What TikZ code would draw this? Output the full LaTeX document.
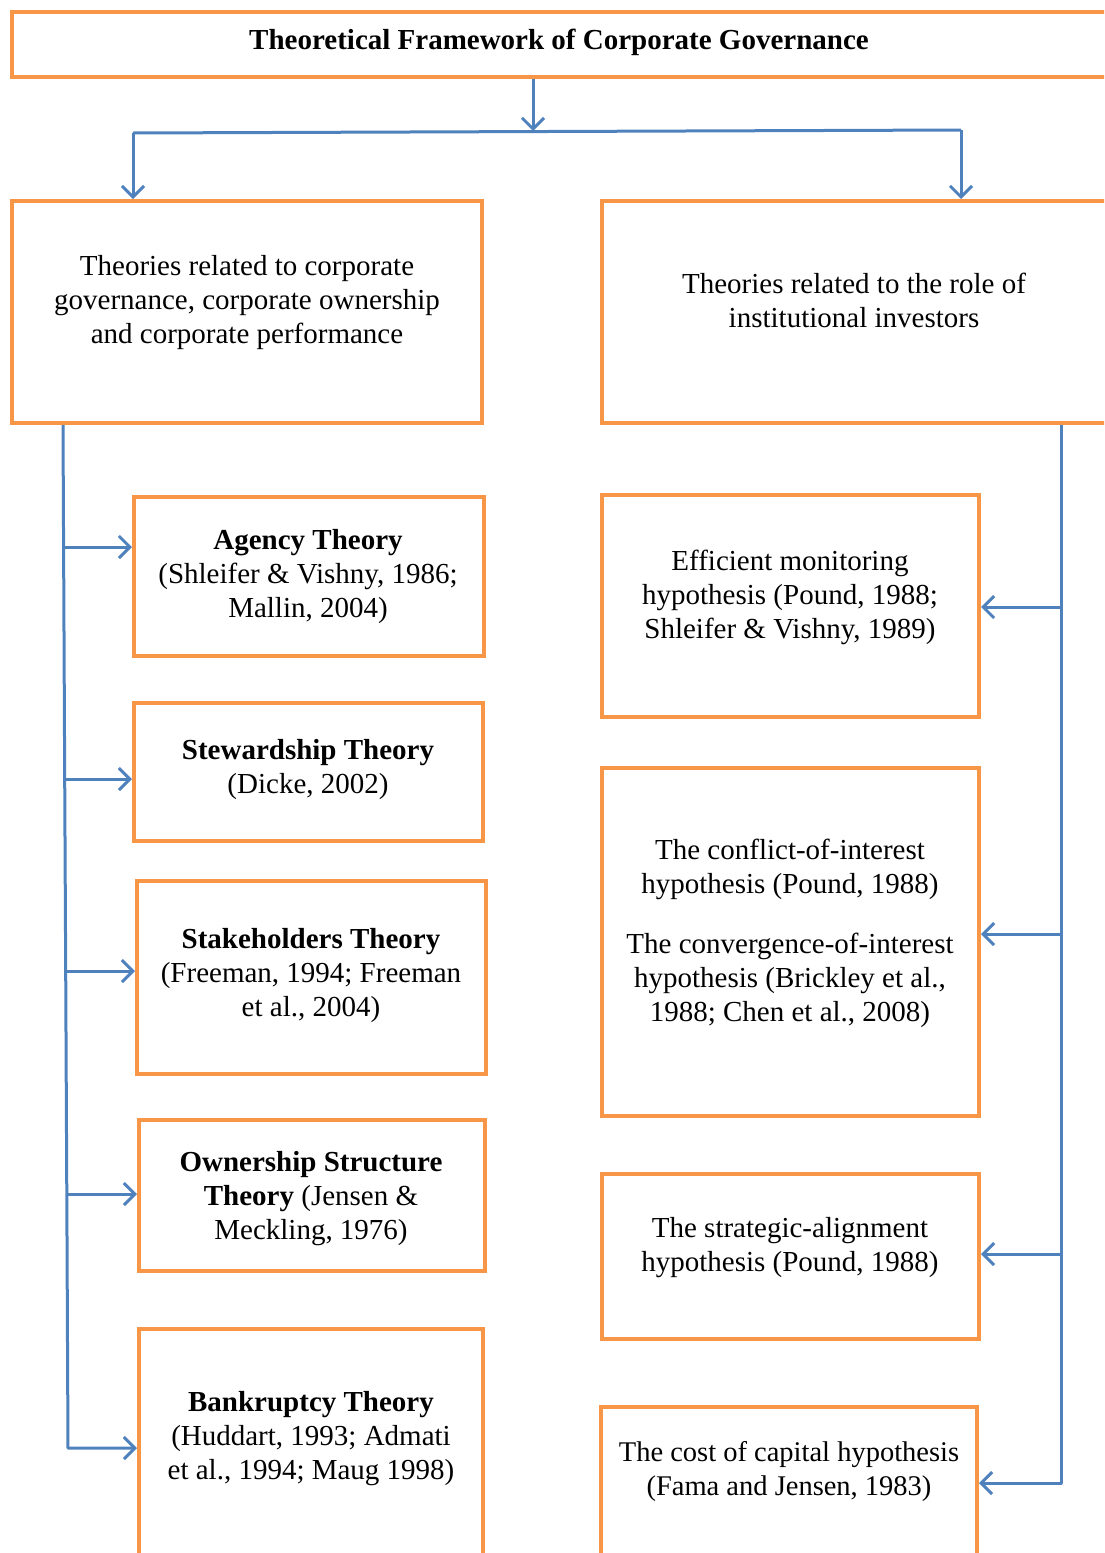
\documentclass[tikz,border=0pt]{standalone}
\usepackage{fontspec}
\setmainfont{Liberation Serif}
\usetikzlibrary{arrows.meta}
\definecolor{boxorange}{HTML}{F79646}
\definecolor{linkblue}{HTML}{4F81BD}
\begin{document}
\begin{tikzpicture}[x=1pt,y=-1pt,
  obox/.style={draw=boxorange, line width=4pt, rectangle, inner sep=0pt},
  txt/.style={align=center, inner sep=0pt, font=\fontsize{29}{34}\selectfont},
  link/.style={draw=linkblue, line width=3pt},
  arr/.style={link, -{Straight Barb[length=11pt,width=22pt]}}]
\useasboundingbox (0,0) rectangle (1104,1553);
\clip (0,0) rectangle (1104,1553);

% boxes
\node[obox, minimum width=1103pt, minimum height=65pt] (title) at (563.5,44.5) {};
\node[obox, minimum width=470pt, minimum height=222pt] (lbig) at (247,312) {};
\node[obox, minimum width=513pt, minimum height=222pt] (rbig) at (858.5,312) {};
\node[obox, minimum width=350pt, minimum height=159pt] (agency) at (309,576.5) {};
\node[obox, minimum width=349pt, minimum height=138pt] (steward) at (308.5,772) {};
\node[obox, minimum width=349pt, minimum height=193pt] (stake) at (311.5,977.5) {};
\node[obox, minimum width=346pt, minimum height=151pt] (owner) at (312,1195.5) {};
\node[obox, minimum width=344pt, minimum height=241pt] (bankr) at (311,1449.5) {};
\node[obox, minimum width=377pt, minimum height=222pt] (effic) at (790.5,606) {};
\node[obox, minimum width=377pt, minimum height=348pt] (confl) at (790.5,942) {};
\node[obox, minimum width=377pt, minimum height=165pt] (strat) at (790.5,1256.5) {};
\node[obox, minimum width=376pt, minimum height=163pt] (cost) at (789,1488.5) {};

% texts
\node[txt] (tTitle) at (559,42) {\textbf{Theoretical Framework of Corporate Governance}};
\node[txt] (tLbig) at (247,303) {Theories related to corporate\\governance, corporate ownership\\and corporate performance};
\node[txt] (tRbig) at (854,300) {Theories related to the role of\\institutional investors};
\node[txt] (tAgency) at (308,577) {\textbf{Agency Theory}\\(Shleifer \& Vishny, 1986;\\Mallin, 2004)};
\node[txt] (tSteward) at (308,770) {\textbf{Stewardship Theory}\\(Dicke, 2002)};
\node[txt] (tStake) at (311,976) {\textbf{Stakeholders Theory}\\(Freeman, 1994; Freeman\\et al., 2004)};
\node[txt] (tOwner) at (311,1199) {\textbf{Ownership Structure}\\\textbf{Theory} (Jensen \&\\Meckling, 1976)};
\node[txt] (tBankr) at (311,1439) {\textbf{Bankruptcy Theory}\\(Huddart, 1993; Admati\\et al., 1994; Maug 1998)};
\node[txt] (tEffic) at (790,597) {Efficient monitoring\\hypothesis (Pound, 1988;\\Shleifer \& Vishny, 1989)};
\node[txt] (tConfl) at (790,933) {The conflict-of-interest\\hypothesis (Pound, 1988)\\[26pt]The convergence-of-interest\\hypothesis (Brickley et al.,\\1988; Chen et al., 2008)};
\node[txt] (tStrat) at (790,1248) {The strategic-alignment\\hypothesis (Pound, 1988)};
\node[txt, font=\fontsize{28.5}{34}\selectfont] (tCost) at (789,1471) {The cost of capital hypothesis\\(Fama and Jensen, 1983)};

% junction points
\coordinate (hub) at (533,131);
\coordinate (hl) at (133,133);
\coordinate (hr) at (961,130);
\coordinate (ltop) at (63,424);
\coordinate (ja) at (63.6,547);
\coordinate (js) at (64.7,779);
\coordinate (jk) at (65.7,971);
\coordinate (jo) at (66.8,1194);
\coordinate (jb) at (68,1448);
\coordinate (rtop) at (1061,424);
\coordinate (je) at (1061,607);
\coordinate (jc) at (1061,934);
\coordinate (jt) at (1061,1254);
\coordinate (jm) at (1061,1483);

% connectors
\draw[arr] (title.south -| hub) -- (hub);
\draw[link] (hl) -- (hr);
\draw[arr] (hl) -- (hl |- lbig.north);
\draw[arr] (hr) -- (hr |- rbig.north);

\draw[link] (lbig.south -| ltop) -- (ja);
\draw[arr, line join=round] (ja) -- (js) -- (jk) -- (jo) -- (jb) -- (jb -| bankr.west);
\draw[arr] (ja) -- (ja -| agency.west);
\draw[arr] (js) -- (js -| steward.west);
\draw[arr] (jk) -- (jk -| stake.west);
\draw[arr] (jo) -- (jo -| owner.west);

\draw[arr, line join=round] (rbig.south -| rtop) -- (jm) -- (jm -| cost.east);
\draw[arr] (je) -- (je -| effic.east);
\draw[arr] (jc) -- (jc -| confl.east);
\draw[arr] (jt) -- (jt -| strat.east);
\end{tikzpicture}
\end{document}
